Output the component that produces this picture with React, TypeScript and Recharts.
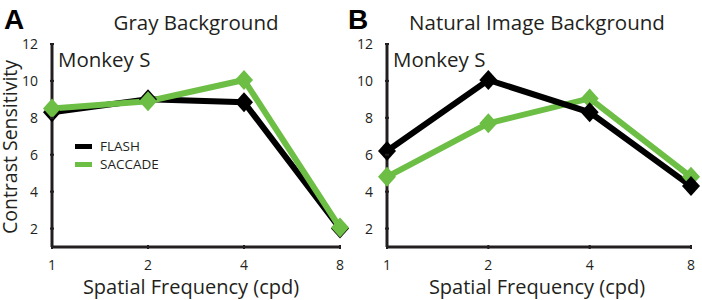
import { LineChart, Line, XAxis, YAxis } from "recharts";

const freqs = [1, 2, 4, 8];
const yTicks = [2, 4, 6, 8, 10, 12];
const grayFlash = [8.3, 9.0, 8.85, 2.0];
const graySaccade = [8.5, 8.9, 10.05, 2.05];
const naturalFlash = [6.2, 10.05, 8.3, 4.3];
const naturalSaccade = [4.8, 7.7, 9.05, 4.8];
const seriesNames = ["FLASH", "SACCADE"];

const BLACK = "#000000";
const GREEN = "#6cbe45";
const TEXT = "#231f20";
const FONT = "'Open Sans', sans-serif";

const rows = (flash: number[], saccade: number[]) =>
  freqs.map((f, i) => ({ f, flash: flash[i], saccade: saccade[i] }));

const Diamond = (color: string) => (p: any) => {
  const { cx, cy } = p;
  if (cx == null || cy == null) return <g key={p.index} />;
  return (
    <polygon key={p.index} fill={color}
      points={`${cx},${cy - 10} ${cx + 9},${cy} ${cx},${cy + 10} ${cx - 9},${cy}`} />
  );
};

const YTick = (p: any) => (
  <g>
    <line x1={p.x} x2={p.x + 4} y1={p.y} y2={p.y} stroke={TEXT} strokeWidth={2} />
    <text x={p.x - 12} y={p.y} dy="0.36em" textAnchor="end" fontSize={14} fill={TEXT} fontFamily={FONT}>
      {p.payload.value}
    </text>
  </g>
);

const XTick = (p: any) => (
  <g>
    <line x1={p.x} x2={p.x} y1={p.y} y2={p.y - 4} stroke={TEXT} strokeWidth={2} />
    <text x={p.x} y={p.y + 16} dy="0.36em" textAnchor="middle" fontSize={14} fill={TEXT} fontFamily={FONT}>
      {p.payload.value}
    </text>
  </g>
);

function Panel({ data, left, plotLeft, width, flashOnTop }: any) {
  const flash = (
    <Line key="flash" name={seriesNames[0]} dataKey="flash" stroke={BLACK} strokeWidth={6}
      dot={Diamond(BLACK)} activeDot={false} isAnimationActive={false} strokeLinejoin="miter" />
  );
  const saccade = (
    <Line key="saccade" name={seriesNames[1]} dataKey="saccade" stroke={GREEN} strokeWidth={6}
      dot={Diamond(GREEN)} activeDot={false} isAnimationActive={false} strokeLinejoin="miter" />
  );
  return (
    <div style={{ position: "absolute", left, top: 0 }}>
      <LineChart width={width} height={300} data={data}
        margin={{ top: 44, right: 11, bottom: 52, left: plotLeft - 1 }}>
        <XAxis dataKey="f" type="number" scale="log" domain={[1, 8]} ticks={freqs}
          height={1} tickSize={0} tickLine={false} tick={XTick} interval={0}
          axisLine={{ stroke: TEXT, strokeWidth: 3 }} />
        <YAxis type="number" domain={[1, 12]} ticks={yTicks} width={1} tickSize={0}
          tickLine={false} tick={YTick} interval={0}
          axisLine={{ stroke: TEXT, strokeWidth: 3 }} />
        {flashOnTop ? [saccade, flash] : [flash, saccade]}
      </LineChart>
    </div>
  );
}

const label = (text: string, style: any) => (
  <div style={{ position: "absolute", fontFamily: FONT, color: TEXT, whiteSpace: "nowrap", lineHeight: 1, ...style }}>{text}</div>
);

export default function App() {
  return (
    <div style={{ position: "absolute", left: 0, top: 0, width: 702, height: 300, background: "#fff", overflow: "hidden" }}>
      <Panel data={rows(grayFlash, graySaccade)} left={0} plotLeft={52} width={351} flashOnTop={false} />
      <Panel data={rows(naturalFlash, naturalSaccade)} left={351} plotLeft={36} width={351} flashOnTop />
      <div style={{ position: "absolute", left: 75, top: 137, fontFamily: FONT, fontSize: 13.5, color: TEXT, lineHeight: "18px" }}>
        {seriesNames.map((n, i) => (
          <div key={n} style={{ display: "flex", alignItems: "center" }}>
            <span style={{ display: "inline-block", width: 17, height: 5, background: i === 0 ? BLACK : GREEN, marginRight: 8 }} />
            {n}
          </div>
        ))}
      </div>
      <svg width={30} height={300} style={{ position: "absolute", left: 0, top: 0 }}>
        <text transform="translate(17,147) rotate(-90)" textAnchor="middle" fontSize={19.5} fill={TEXT} fontFamily={FONT}>
          Contrast Sensitivity
        </text>
      </svg>
      {label("A", { left: 4, top: 6, fontSize: 28, fontWeight: 700, fontFamily: "'Liberation Sans', Arial, sans-serif", color: "#000" })}
      {label("B", { left: 348, top: 6, fontSize: 28, fontWeight: 700, fontFamily: "'Liberation Sans', Arial, sans-serif", color: "#000" })}
      {label("Gray Background", { left: 196, top: 12, fontSize: 20.5, transform: "translateX(-50%)" })}
      {label("Natural Image Background", { left: 537, top: 12, fontSize: 20.5, transform: "translateX(-50%)" })}
      {label("Monkey S", { left: 58, top: 49, fontSize: 20.5 })}
      {label("Monkey S", { left: 393, top: 49, fontSize: 20.5 })}
      {label("Spatial Frequency (cpd)", { left: 191, top: 277, fontSize: 20, transform: "translateX(-50%)" })}
      {label("Spatial Frequency (cpd)", { left: 537, top: 277, fontSize: 20, transform: "translateX(-50%)" })}
    </div>
  );
}
